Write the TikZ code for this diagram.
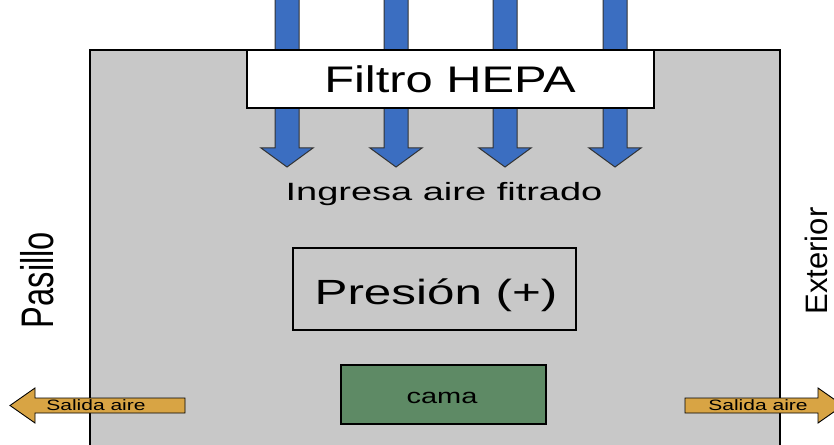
\documentclass[tikz,border=0pt]{standalone}
\usepackage{fontspec}
\setmainfont{Liberation Sans}
\usepackage{tikz}
\usetikzlibrary{calc,positioning}
\definecolor{roomgray}{HTML}{C8C8C8}
\definecolor{bluex}{HTML}{3B6EC1}
\definecolor{goldx}{HTML}{D8A444}
\definecolor{bedgreen}{HTML}{5E8A65}
\newcommand{\xs}[2]{\scalebox{#1}[1]{#2}}
\tikzset{
  rm/.style={draw=black,line width=1.6pt,fill=roomgray},
  bx/.style={draw=black,line width=1.4pt,inner sep=0pt},
  ba/.style={draw=black!80,line width=1pt,fill=bluex},
  ga/.style={draw=black,line width=0.9pt,fill=goldx},
  lb/.style={inner sep=0pt,anchor=base,text=black}
}
\begin{document}
\begin{tikzpicture}[x=1pt,y=1pt]
\useasboundingbox (0,0) rectangle (834,444);
\clip (0,0) rectangle (834,444);
% room
\draw[rm] (90,-10) rectangle (780,394);
% blue inflow arrows, behind the filter
\foreach \ax in {287,396,505,615}{
  \draw[ba] (\ax-12,450)--(\ax-12,296)--(\ax-26,296)--(\ax,277)--(\ax+26,296)--(\ax+12,296)--(\ax+12,450)--cycle;
}
\node[bx,fill=white,minimum width=407pt,minimum height=58pt] (filtro) at (450.5,365) {};
\node[lb,font=\fontsize{37}{44}\selectfont] (filtrotxt) at (450,351) {\xs{1.32}{Filtro HEPA}};
\node[lb,font=\fontsize{25}{30}\selectfont] (ingresa) at (444,243) {\xs{1.52}{Ingresa aire fitrado}};
\node[bx,minimum width=283pt,minimum height=82pt] (presion) at (434.5,155) {};
\node[lb,font=\fontsize{35}{42}\selectfont] (presiontxt) at (436,139) {\xs{1.41}{Presión (+)}};
\node[bx,fill=bedgreen,minimum width=205pt,minimum height=59pt] (cama) at (443.5,49.5) {};
\node[lb,font=\fontsize{21}{25}\selectfont] (camatxt) at (442,41) {\xs{1.38}{cama}};
% side labels
\node[lb,rotate=90,font=\fontsize{32.6}{39}\selectfont] (pasillo) at (53,164) {\scalebox{1}[1.4]{Pasillo}};
\node[lb,rotate=90,font=\fontsize{31}{37}\selectfont] (exterior) at (827,183) {Exterior};
% outflow arrows
\draw[ga] (185,46)--(35,46)--(35,56)--(10,38.5)--(35,21)--(35,31)--(185,31)--cycle;
\node[lb,font=\fontsize{15}{18}\selectfont] (salidaL) at (96,33.5) {\xs{1.4}{Salida aire}};
\draw[ga] (685,46)--(818,46)--(818,56)--(843,38.5)--(818,21)--(818,31)--(685,31)--cycle;
\node[lb,font=\fontsize{15}{18}\selectfont] (salidaR) at (758,33.5) {\xs{1.4}{Salida aire}};
\end{tikzpicture}
\end{document}
